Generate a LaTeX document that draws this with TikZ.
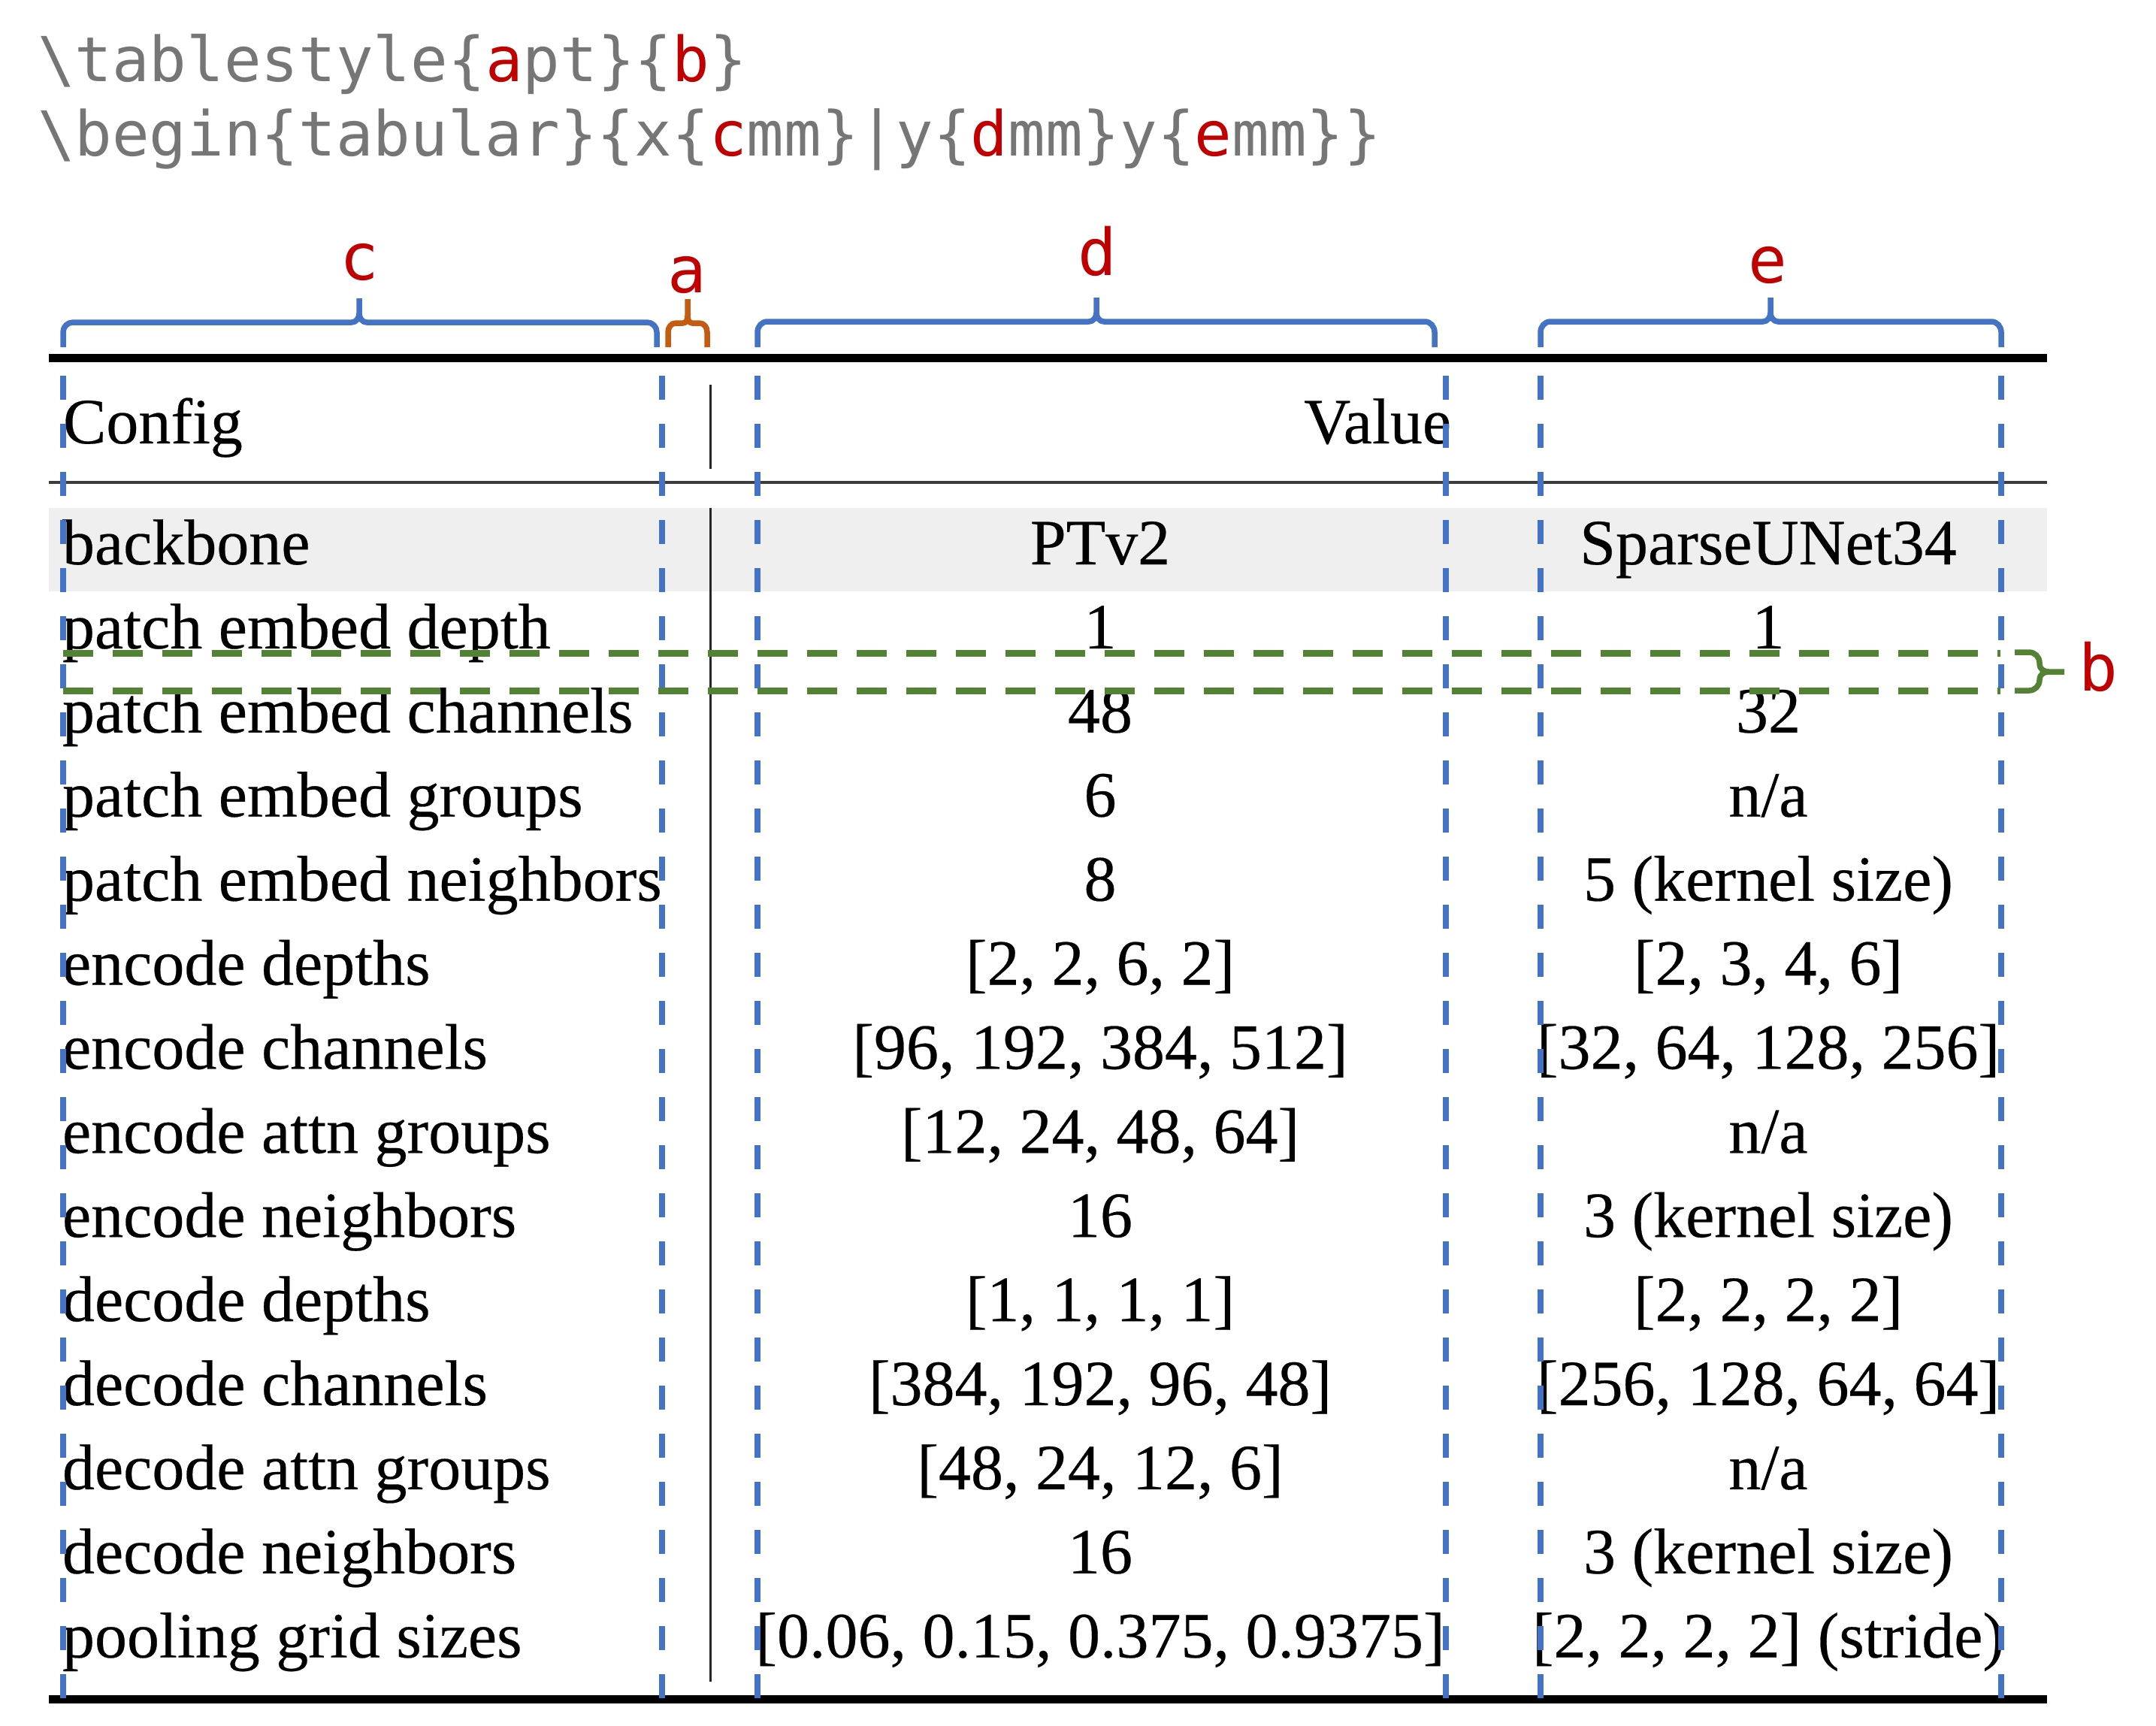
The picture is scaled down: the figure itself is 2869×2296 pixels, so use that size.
\documentclass[tikz,border=0pt]{standalone}
\usepackage{fontspec}
\setmainfont{Liberation Serif}[FakeBold=0.3]
\newfontfamily\codefont{DejaVu Sans Mono}
\definecolor{codegray}{RGB}{118,118,118}
\definecolor{cred}{RGB}{192,0,0}
\definecolor{cblue}{RGB}{68,114,196}
\definecolor{corange}{RGB}{197,90,17}
\definecolor{cgreen}{RGB}{84,130,53}
\definecolor{rowgray}{RGB}{239,239,239}
\definecolor{rulegray}{RGB}{60,60,60}
\begin{document}
\begin{tikzpicture}[x=0.2pt,y={(0pt,-0.2pt)},
  cell/.style={inner sep=0pt, outer sep=0pt, font=\fontsize{17.2}{20}\selectfont},
  lcell/.style={cell, anchor=base west},
  ccell/.style={cell, anchor=base},
  codeline/.style={inner sep=0pt, outer sep=0pt, anchor=base west, text=codegray, font=\codefont\fontsize{16.5}{20}\selectfont},
  bracelbl/.style={inner sep=0pt, outer sep=0pt, anchor=base, text=cred, font=\codefont\fontsize{17.2}{20}\selectfont},
  bluedash/.style={draw=cblue, line width=1.5pt, dash pattern=on 6.4pt off 6.4pt},
  greendash/.style={draw=cgreen, line width=1.8pt, dash pattern=on 8pt off 5.2pt},
  bracepen/.style={line width=1.5pt, line join=round}]
\useasboundingbox (0,0) rectangle (2869,2296);

% code lines
\node[codeline] (code1) at (50,108) {\textbackslash tablestyle\{\textcolor{cred}{a}pt\}\{\textcolor{cred}{b}\}};
\node[codeline] (code2) at (50,207) {\textbackslash begin\{tabular\}\{x\{\textcolor{cred}{c}mm\}|y\{\textcolor{cred}{d}mm\}y\{\textcolor{cred}{e}mm\}\}};

% gray row
\fill[rowgray] (65,676) rectangle (2724,787);

% rules
\draw[line width=2.2pt] (65,476) -- (2724,476);
\draw[rulegray, line width=0.8pt] (65,642) -- (2724,642);
\draw[line width=2.2pt] (65,2261) -- (2724,2261);

% vertical column separator
\draw[black!85, line width=0.6pt] (945,512) -- (945,624);
\draw[black!85, line width=0.6pt] (945,676) -- (945,2238);

% header
\node[lcell] (hconfig) at (84,590) {Config};
\node[cell, anchor=base east] (hvalue) at (1931,590) {Value};

% rows
\node[lcell] (l0) at (83,751) {backbone};
\node[ccell] (m0) at (1464,751) {PTv2};
\node[ccell] (r0) at (2353,751) {SparseUNet34};
\node[lcell] (l1) at (83,862.9) {patch embed depth};
\node[ccell] (m1) at (1464,862.9) {1};
\node[ccell] (r1) at (2353,862.9) {1};
\node[lcell] (l2) at (83,974.8) {patch embed channels};
\node[ccell] (m2) at (1464,974.8) {48};
\node[ccell] (r2) at (2353,974.8) {32};
\node[lcell] (l3) at (83,1086.7) {patch embed groups};
\node[ccell] (m3) at (1464,1086.7) {6};
\node[ccell] (r3) at (2353,1086.7) {n/a};
\node[lcell] (l4) at (83,1198.6) {patch embed neighbors};
\node[ccell] (m4) at (1464,1198.6) {8};
\node[ccell] (r4) at (2353,1198.6) {5 (kernel size)};
\node[lcell] (l5) at (83,1310.5) {encode depths};
\node[ccell] (m5) at (1464,1310.5) {[2, 2, 6, 2]};
\node[ccell] (r5) at (2353,1310.5) {[2, 3, 4, 6]};
\node[lcell] (l6) at (83,1422.4) {encode channels};
\node[ccell] (m6) at (1464,1422.4) {[96, 192, 384, 512]};
\node[ccell] (r6) at (2353,1422.4) {[32, 64, 128, 256]};
\node[lcell] (l7) at (83,1534.3) {encode attn groups};
\node[ccell] (m7) at (1464,1534.3) {[12, 24, 48, 64]};
\node[ccell] (r7) at (2353,1534.3) {n/a};
\node[lcell] (l8) at (83,1646.2) {encode neighbors};
\node[ccell] (m8) at (1464,1646.2) {16};
\node[ccell] (r8) at (2353,1646.2) {3 (kernel size)};
\node[lcell] (l9) at (83,1758.1) {decode depths};
\node[ccell] (m9) at (1464,1758.1) {[1, 1, 1, 1]};
\node[ccell] (r9) at (2353,1758.1) {[2, 2, 2, 2]};
\node[lcell] (l10) at (83,1870) {decode channels};
\node[ccell] (m10) at (1464,1870) {[384, 192, 96, 48]};
\node[ccell] (r10) at (2353,1870) {[256, 128, 64, 64]};
\node[lcell] (l11) at (83,1981.9) {decode attn groups};
\node[ccell] (m11) at (1464,1981.9) {[48, 24, 12, 6]};
\node[ccell] (r11) at (2353,1981.9) {n/a};
\node[lcell] (l12) at (83,2093.8) {decode neighbors};
\node[ccell] (m12) at (1464,2093.8) {16};
\node[ccell] (r12) at (2353,2093.8) {3 (kernel size)};
\node[lcell] (l13) at (83,2205.7) {pooling grid sizes};
\node[ccell] (m13) at (1464,2205.7) {[0.06, 0.15, 0.375, 0.9375]};
\node[ccell] (r13) at (2353,2205.7) {[2, 2, 2, 2] (stride)};

% blue dashed column guides
\foreach \gx in {84,881,1008,1924,2050,2663}
  \draw[bluedash] (\gx,500) -- (\gx,2262);

% green dashed row gap
\draw[greendash] (84,869) -- (2662,869);
\draw[greendash] (84,919) -- (2662,919);

% top braces
\draw[bracepen, cblue] (84,462) -- (84,442) to[out=90,in=180] (97,429) -- (468,429) to[out=0,in=-90] (478,417) -- (478,397);
\draw[bracepen, cblue] (874,462) -- (874,442) to[out=90,in=0] (861,429) -- (488,429) to[out=180,in=-90] (478,417);
\draw[bracepen, corange] (889,462) -- (889,442) to[out=90,in=180] (899,430) -- (909,430) to[out=0,in=-90] (915,420) -- (915,398);
\draw[bracepen, corange] (941,462) -- (941,442) to[out=90,in=0] (931,430) -- (921,430) to[out=180,in=-90] (915,420);
\draw[bracepen, cblue] (1008,462) -- (1008,442) to[out=90,in=180] (1021,428) -- (1449,428) to[out=0,in=-90] (1459,416) -- (1459,396);
\draw[bracepen, cblue] (1909,462) -- (1909,442) to[out=90,in=0] (1896,428) -- (1469,428) to[out=180,in=-90] (1459,416);
\draw[bracepen, cblue] (2050,462) -- (2050,442) to[out=90,in=180] (2063,428) -- (2346,428) to[out=0,in=-90] (2356,416) -- (2356,396);
\draw[bracepen, cblue] (2663,462) -- (2663,442) to[out=90,in=0] (2650,428) -- (2366,428) to[out=180,in=-90] (2356,416);

% right brace for b
\draw[bracepen, cgreen] (2681,868) -- (2700,868) to[out=0,in=90] (2714,882) -- (2714,884) to[out=-90,in=180] (2726,894) -- (2747,894);
\draw[bracepen, cgreen] (2681,919) -- (2700,919) to[out=0,in=-90] (2714,905) -- (2714,904) to[out=90,in=180] (2726,894);

% brace labels
\node[bracelbl] (lc) at (478,372) {c};
\node[bracelbl] (la) at (914,389) {a};
\node[bracelbl] (ld) at (1460,366) {d};
\node[bracelbl] (le) at (2352,376) {e};
\node[bracelbl, anchor=base west] (lb) at (2766,919) {b};
\end{tikzpicture}
\end{document}
